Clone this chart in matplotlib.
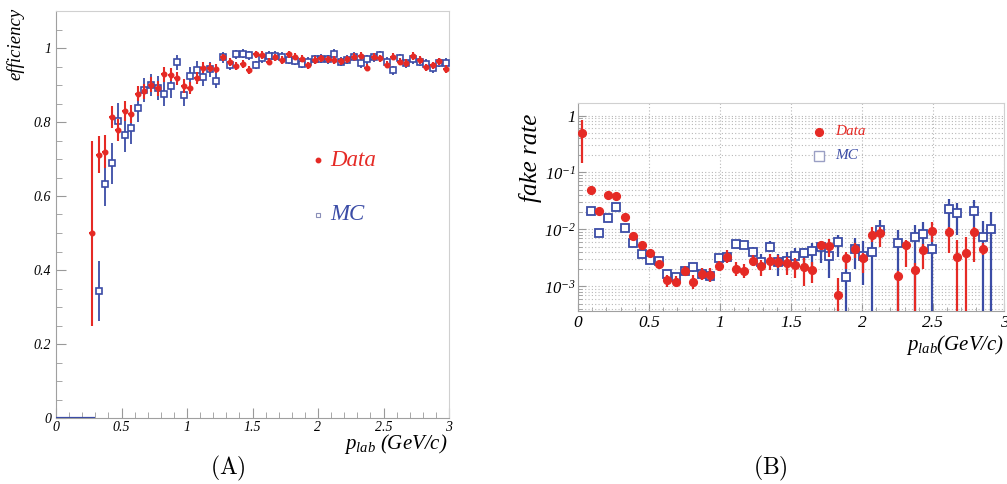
import numpy as np
import matplotlib
matplotlib.use("Agg")
import matplotlib.pyplot as plt
from matplotlib.ticker import MultipleLocator, FuncFormatter, LogLocator, FixedLocator

plt.rcParams['mathtext.fontset'] = 'custom'
plt.rcParams['mathtext.rm'] = 'Liberation Serif:italic'
plt.rcParams['mathtext.it'] = 'Liberation Serif:italic'

RED = '#e52a25'
BLUE = '#3b4ca6'
SERIF = 'Liberation Serif'

# ---------------- (A) efficiency vs momentum ----------------
eff_p_data = np.round(np.arange(0.275, 3.0, 0.05), 3)
eff_data = [0.50, 0.711, 0.72, 0.814, 0.779, 0.83, 0.821, 0.876, 0.883, 0.901,
            0.891, 0.929, 0.928, 0.918, 0.897, 0.892, 0.919, 0.947, 0.947, 0.944,
            0.975, 0.962, 0.951, 0.957, 0.941, 0.983, 0.981, 0.963, 0.975, 0.968,
            0.983, 0.977, 0.971, 0.953, 0.968, 0.972, 0.969, 0.968, 0.964, 0.969,
            0.977, 0.979, 0.947, 0.977, 0.972, 0.955, 0.977, 0.963, 0.959, 0.978,
            0.968, 0.948, 0.953, 0.964, 0.943]
eff_data_err = [0.25, 0.05, 0.045, 0.03, 0.03, 0.027, 0.025, 0.02, 0.02, 0.02,
                0.02, 0.02, 0.018, 0.018, 0.018, 0.016, 0.015, 0.014, 0.013, 0.012,
                0.01, 0.01, 0.01, 0.01, 0.01, 0.01, 0.01, 0.01, 0.01, 0.01,
                0.01, 0.01, 0.01, 0.01, 0.01, 0.01, 0.01, 0.01, 0.01, 0.01,
                0.01, 0.01, 0.01, 0.01, 0.01, 0.01, 0.01, 0.01, 0.01, 0.01,
                0.01, 0.01, 0.01, 0.01, 0.01]

eff_p_mc = np.round(np.arange(0.325, 3.0, 0.05), 3)
eff_mc = [0.343, 0.632, 0.688, 0.803, 0.765, 0.783, 0.838, 0.886, 0.900, 0.891,
          0.875, 0.896, 0.961, 0.873, 0.925, 0.940, 0.921, 0.942, 0.912, 0.975,
          0.954, 0.983, 0.985, 0.980, 0.954, 0.972, 0.979, 0.979, 0.977, 0.968,
          0.966, 0.958, 0.963, 0.970, 0.971, 0.970, 0.985, 0.963, 0.968, 0.977,
          0.959, 0.969, 0.975, 0.980, 0.963, 0.940, 0.972, 0.959, 0.970, 0.963,
          0.957, 0.945, 0.960, 0.960]
eff_mc_err = [0.08, 0.06, 0.055, 0.047, 0.045, 0.043, 0.038, 0.033, 0.031, 0.032,
              0.033, 0.03, 0.02, 0.03, 0.025, 0.025, 0.025, 0.02, 0.02, 0.015,
              0.014, 0.012, 0.012, 0.012, 0.012, 0.012, 0.012, 0.012, 0.012, 0.012,
              0.012, 0.012, 0.012, 0.012, 0.012, 0.012, 0.012, 0.012, 0.012, 0.012,
              0.012, 0.012, 0.012, 0.012, 0.012, 0.012, 0.012, 0.012, 0.012, 0.012,
              0.012, 0.012, 0.012, 0.012]
mc_zero_range = [0.0, 0.3]

# ---------------- (B) fake rate vs momentum ----------------
nan = np.nan
fake_p = np.round(np.arange(0.03, 3.0, 0.06), 3)
fake_data = [0.5, 0.049, 0.021, 0.041, 0.039, 0.0168, 0.0078, 0.0054, 0.0038, 0.00245,
             0.0013, 0.00121, 0.00187, 0.00121, 0.00166, 0.0016, 0.00232, 0.00333, 0.0020, 0.0019,
             0.00284, 0.00229, 0.0028, 0.00272, 0.00255, 0.00238, 0.00217, 0.00195, 0.00535, 0.0051,
             0.00072, 0.0031, 0.0045, 0.0031, 0.0081, 0.0087, nan, 0.00153, 0.00535, 0.00195,
             0.0043, 0.0094, nan, 0.0092, 0.00325, 0.0039, 0.0089, 0.00455, nan, nan]
fake_data_lo = [0.149, 0.045, 0.019, 0.038, 0.036, 0.0155, 0.0071, 0.0049, 0.0034, 0.0021,
                0.00099, 0.00098, 0.0015, 0.00089, 0.0013, 0.0012, 0.0019, 0.0026, 0.0015, 0.0014,
                0.00226, 0.00153, 0.00195, 0.0021, 0.0016, 0.00139, 0.001, 0.00117, 0.0044, 0.0033,
                1e-4, 0.002, 0.0032, 0.00174, 0.006, 0.005, nan, 1e-4, 0.0022, 1e-4,
                0.002, 0.006, nan, 0.0039, 1e-4, 1e-4, 0.0027, 0.0036, nan, nan]
fake_data_hi = [0.83, 0.053, 0.023, 0.044, 0.042, 0.0182, 0.0086, 0.006, 0.0043, 0.0028,
                0.0016, 0.0015, 0.0023, 0.0016, 0.0021, 0.0021, 0.0028, 0.0043, 0.0027, 0.0025,
                0.0035, 0.00288, 0.0037, 0.0036, 0.0033, 0.0031, 0.0032, 0.0027, 0.0063, 0.0069,
                0.0014, 0.0041, 0.0057, 0.0039, 0.0109, 0.011, nan, 0.0019, 0.0065, 0.0026,
                0.0055, 0.0135, nan, 0.011, 0.0065, 0.0074, 0.0112, 0.0057, nan, nan]

fake_mc = [nan, 0.0211, 0.0087, 0.0157, 0.0245, 0.0105, 0.0059, 0.0037, 0.0029, 0.00284,
           0.00166, 0.00145, 0.0019, 0.00217, 0.00164, 0.00155, 0.00313, 0.00333, 0.00557, 0.00535,
           0.00398, 0.00272, 0.0050, 0.00272, 0.0028, 0.00343, 0.00393, 0.00426, 0.0050, 0.0034,
           0.0061, 0.00145, 0.0046, 0.0034, 0.0040, 0.0098, nan, 0.0058, nan, 0.0073,
           0.0083, 0.0045, nan, 0.0229, 0.0192, nan, 0.0214, 0.0073, 0.0102, nan]
fake_mc_lo = [nan, 0.0195, 0.008, 0.0145, 0.0225, 0.0096, 0.0054, 0.0034, 0.0026, 0.0025,
              0.00145, 0.00127, 0.0016, 0.0018, 0.0013, 0.0012, 0.0027, 0.0028, 0.0047, 0.0045,
              0.0032, 0.00208, 0.004, 0.00153, 0.00187, 0.002, 0.00245, 0.00198, 0.0026, 0.0014,
              0.0033, 1e-4, 0.002, 0.00108, 1e-4, 0.0065, nan, 1e-4, nan, 1e-4,
              0.004, 1e-4, nan, 0.0098, 0.008, nan, 0.0099, 1e-4, 1e-4, nan]
fake_mc_hi = [nan, 0.023, 0.0095, 0.017, 0.0265, 0.0115, 0.0065, 0.0041, 0.0032, 0.0032,
              0.0019, 0.00165, 0.0022, 0.0026, 0.0021, 0.002, 0.0036, 0.0039, 0.0066, 0.0063,
              0.005, 0.00366, 0.0063, 0.00375, 0.004, 0.0048, 0.0048, 0.0058, 0.006, 0.004,
              0.008, 0.0028, 0.0072, 0.0062, 0.0078, 0.0147, nan, 0.0097, nan, 0.012,
              0.0136, 0.0094, nan, 0.034, 0.0288, nan, 0.033, 0.0143, 0.0204, nan]


def fmt_plain(v, pos):
    return '%g' % round(v, 3)


fig = plt.figure(figsize=(10.07, 4.84), dpi=100)
W, H = 1007.0, 484.0

# ---------- left panel ----------
axL = fig.add_axes([56 / W, 1 - 418 / H, 393 / W, 407 / H])
axL.set_xlim(0, 3)
axL.set_ylim(0, 1.1)

axL.plot(mc_zero_range, [0, 0], color=BLUE, lw=1.6, solid_capstyle='butt', zorder=3)
axL.errorbar(eff_p_mc, eff_mc, yerr=eff_mc_err, fmt='s', ms=4.5, mfc='white',
             mec=BLUE, mew=1.2, ecolor=BLUE, elinewidth=1.3, capsize=0, zorder=3)
axL.errorbar(eff_p_data, eff_data, yerr=eff_data_err, xerr=0.022, fmt='o', ms=3.3,
             color=RED, ecolor=RED, elinewidth=1.5, capsize=0, zorder=4)

# legend entries
axL.plot([2.0], [0.697], 'o', color=RED, ms=3.2)
axL.text(2.09, 0.697, 'Data', color=RED, family=SERIF, style='italic', fontsize=16.5,
         va='center', ha='left')
axL.plot([2.0], [0.549], 's', mfc='white', mec='#8a8fb8', mew=0.8, ms=3.5)
axL.text(2.09, 0.549, 'MC', color=BLUE, family=SERIF, style='italic', fontsize=16.5,
         va='center', ha='left')

axL.xaxis.set_major_locator(MultipleLocator(0.5))
axL.xaxis.set_minor_locator(MultipleLocator(0.1))
axL.yaxis.set_major_locator(MultipleLocator(0.2))
axL.yaxis.set_minor_locator(MultipleLocator(0.05))
axL.xaxis.set_major_formatter(FuncFormatter(fmt_plain))
axL.yaxis.set_major_formatter(FuncFormatter(fmt_plain))
axL.tick_params(which='both', direction='in', color='#999999', labelsize=10)
axL.tick_params(which='major', length=7)
axL.tick_params(which='minor', length=4)
axL.tick_params(axis='x', pad=2)
for lab in axL.get_xticklabels() + axL.get_yticklabels():
    lab.set_family(SERIF)
    lab.set_style('italic')
for side in ('left', 'bottom'):
    axL.spines[side].set_color('#a0a0a0')
for side in ('top', 'right'):
    axL.spines[side].set_color('#d0d0d0')

fig.text(15 / W, 1 - 44 / H, 'efficiency', rotation=90, family=SERIF, style='italic',
         fontsize=13.5, ha='center', va='center')
fig.text(447 / W, 1 - 444 / H, r'$p_{lab}$ (GeV/c)', family=SERIF, style='italic',
         fontsize=15, ha='right', va='center')
fig.text(228 / W, 1 - 468 / H, r'$\mathrm{(A)}$', math_fontfamily='cm', fontsize=17,
         ha='center', va='center')

# ---------- right panel ----------
axR = fig.add_axes([578 / W, 1 - 311 / H, 426 / W, 208 / H])
axR.set_yscale('log')
axR.set_xlim(0, 3)
axR.set_ylim(3.7e-4, 1.66)

fd = np.array(fake_data)
fm = np.array(fake_mc)
d_err = [fd - np.array(fake_data_lo), np.array(fake_data_hi) - fd]
m_err = [fm - np.array(fake_mc_lo), np.array(fake_mc_hi) - fm]

axR.errorbar(fake_p, fm, yerr=m_err, fmt='s', ms=6.2, mfc='white', mec=BLUE, mew=1.3,
             ecolor=BLUE, elinewidth=1.6, capsize=0, zorder=3)
axR.errorbar(fake_p, fd, yerr=d_err, fmt='o', ms=5.6, color=RED, ecolor=RED,
             elinewidth=1.6, capsize=0, zorder=4)

axR.plot([1.70], [0.514], 'o', color=RED, ms=5.6)
axR.text(1.81, 0.514, 'Data', color=RED, family=SERIF, style='italic', fontsize=11,
         va='center', ha='left')
axR.plot([1.70], [0.195], 's', mfc='white', mec='#9a9fc4', mew=1.0, ms=6.5)
axR.text(1.81, 0.195, 'MC', color=BLUE, family=SERIF, style='italic', fontsize=11,
         va='center', ha='left')

axR.xaxis.set_major_locator(MultipleLocator(0.5))
axR.xaxis.set_minor_locator(MultipleLocator(0.1))
axR.xaxis.set_major_formatter(FuncFormatter(fmt_plain))
axR.yaxis.set_major_locator(FixedLocator([1e-3, 1e-2, 1e-1, 1]))
axR.yaxis.set_minor_locator(LogLocator(base=10, subs=np.arange(2, 10), numticks=20))
axR.yaxis.set_major_formatter(FuncFormatter(
    lambda v, p: '1' if abs(v - 1) < 1e-9 else r'$10^{%d}$' % round(np.log10(v))))
axR.yaxis.set_minor_formatter(FuncFormatter(lambda v, p: ''))
axR.grid(which='major', axis='x', ls=(0, (1, 2)), color='#b8b8b8', lw=0.8)
axR.grid(which='both', axis='y', ls=(0, (1, 2)), color='#b8b8b8', lw=0.8)
axR.set_axisbelow(True)
axR.tick_params(which='both', direction='in', color='#999999')
axR.tick_params(which='major', length=6, labelsize=12.5)
axR.tick_params(which='minor', length=3)
axR.tick_params(axis='y', which='major', labelsize=12, pad=1.5)
axR.tick_params(axis='x', pad=3)
for lab in axR.get_xticklabels() + axR.get_yticklabels():
    lab.set_family(SERIF)
    lab.set_style('italic')
for side in ('left', 'bottom'):
    axR.spines[side].set_color('#a0a0a0')
for side in ('top', 'right'):
    axR.spines[side].set_color('#d0d0d0')

fig.text(530 / W, 1 - 158 / H, 'fake rate', rotation=90, family=SERIF, style='italic',
         fontsize=18, ha='center', va='center')
fig.text(1004 / W, 1 - 345 / H, r'$p_{lab}$(GeV/c)', family=SERIF, style='italic',
         fontsize=15, ha='right', va='center')
fig.text(770 / W, 1 - 468 / H, r'$\mathrm{(B)}$', math_fontfamily='cm', fontsize=17,
         ha='center', va='center')

fig.savefig('out.png', dpi=100)
